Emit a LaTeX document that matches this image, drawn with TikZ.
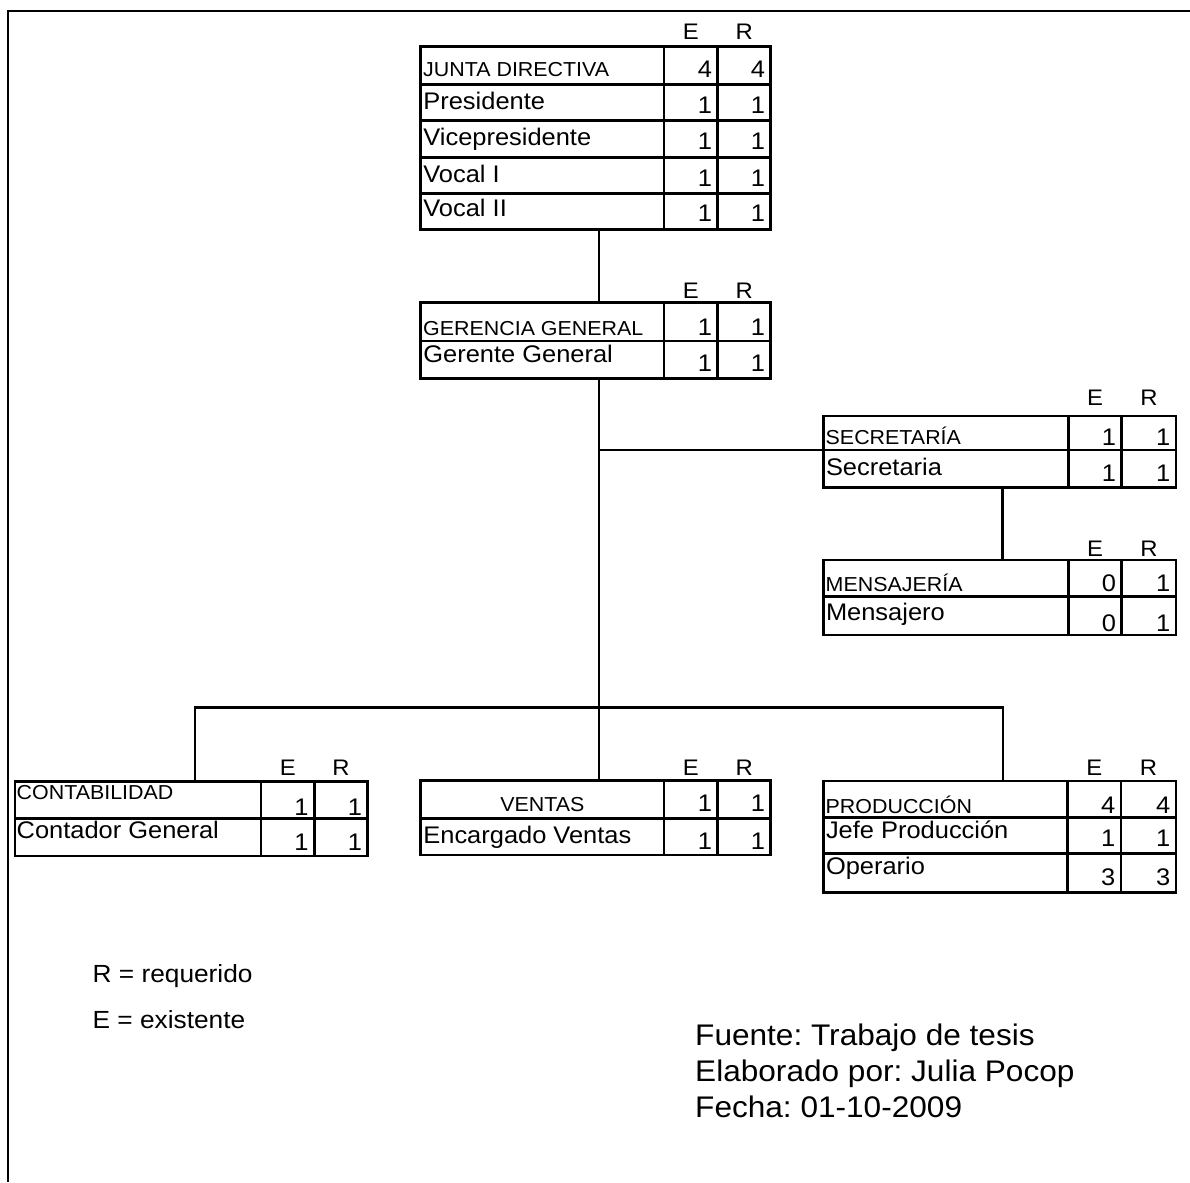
\documentclass[tikz,border=0pt]{standalone}
\usepackage{fontspec}
\setmainfont{Liberation Sans}[FakeStretch=1.06]
\frenchspacing
\begin{document}
\begin{tikzpicture}[x=1pt,y=-1pt,
  tabframe/.style={draw, line width=2.8pt, inner sep=0pt, outer sep=0pt, anchor=north west},
  cellline/.style={line width=2.5pt},
  link/.style={line width=2.4pt},
  pageedge/.style={line width=2.8pt},
  lbl/.style={inner sep=0pt, anchor=base west, font=\fontsize{24}{28}\selectfont},
  caps/.style={inner sep=0pt, anchor=base west, font=\fontsize{20.2}{24}\selectfont},
  capsmid/.style={inner sep=0pt, anchor=base, font=\fontsize{20.2}{24}\selectfont},
  num/.style={inner sep=0pt, anchor=base east, font=\fontsize{24}{28}\selectfont},
  hdr/.style={inner sep=0pt, anchor=base, font=\fontsize{22.5}{26}\selectfont},
  keytext/.style={inner sep=0pt, anchor=base west, font=\fontsize{24.8}{29}\selectfont},
  credit/.style={inner sep=0pt, anchor=base west, font=\fontsize{29.8}{36}\selectfont}]
\useasboundingbox (0,0) rectangle (1190,1182);

% page edge (top and left)
\draw[pageedge] (8,1182) -- (8,11) -- (1190,11);

% ---------- Junta Directiva ----------
\node[tabframe, minimum width=350pt, minimum height=182.6pt] (junta) at (420.7,46.7) {};
\draw[cellline] (664,46.7) -- (664,229.3) (717.7,46.7) -- (717.7,229.3);
\foreach \yy in {84.3,120.7,157.3,193.3} \draw[cellline] (420.7,\yy) -- (770.7,\yy);
\node[hdr] (juntaE) at (690.9,39.3) {E};
\node[hdr] (juntaR) at (744.2,39.3) {R};
\node[caps] (junta0) at (423,76.7) {JUNTA DIRECTIVA};
\node[num] (junta0e) at (712.2,77.3) {4};
\node[num] (junta0r) at (765.2,77.3) {4};
\node[lbl] (junta1) at (423.2,110) {Presidente};
\node[num] (junta1e) at (712.2,113.3) {1};
\node[num] (junta1r) at (765.2,113.3) {1};
\node[lbl] (junta2) at (423.2,146) {Vicepresidente};
\node[num] (junta2e) at (712.2,150) {1};
\node[num] (junta2r) at (765.2,150) {1};
\node[lbl] (junta3) at (423.2,182.7) {Vocal I};
\node[num] (junta3e) at (712.2,186.7) {1};
\node[num] (junta3r) at (765.2,186.7) {1};
\node[lbl] (junta4) at (423.2,216.7) {Vocal II};
\node[num] (junta4e) at (712.2,221.7) {1};
\node[num] (junta4r) at (765.2,221.7) {1};

% ---------- Gerencia General ----------
\node[tabframe, minimum width=350pt, minimum height=75.6pt] (gerencia) at (420.7,302.7) {};
\draw[cellline] (664,302.7) -- (664,378.3) (717.7,302.7) -- (717.7,378.3);
\draw[cellline] (420.7,341) -- (770.7,341);
\node[hdr] (gerE) at (690.9,298.3) {E};
\node[hdr] (gerR) at (744.2,298.3) {R};
\node[caps] (ger0) at (423,335) {GERENCIA GENERAL};
\node[num] (ger0e) at (712.2,335) {1};
\node[num] (ger0r) at (765.2,335) {1};
\node[lbl] (ger1) at (423.2,362.7) {Gerente General};
\node[num] (ger1e) at (712.2,371.7) {1};
\node[num] (ger1r) at (765.2,371.7) {1};

% ---------- Secretaría ----------
\node[tabframe, minimum width=352.7pt, minimum height=71.7pt] (secretaria) at (823.3,416) {};
\draw[cellline] (1068.3,416) -- (1068.3,487.7) (1121.7,416) -- (1121.7,487.7);
\draw[cellline] (823.3,450) -- (1176,450);
\node[hdr] (secE) at (1095,405) {E};
\node[hdr] (secR) at (1148.9,405) {R};
\node[caps] (sec0) at (825.5,444) {SECRETARÍA};
\node[num] (sec0e) at (1116.2,445) {1};
\node[num] (sec0r) at (1170.5,445) {1};
\node[lbl] (sec1) at (825.8,475) {Secretaria};
\node[num] (sec1e) at (1116.2,481.7) {1};
\node[num] (sec1r) at (1170.5,481.7) {1};

% ---------- Mensajería ----------
\node[tabframe, minimum width=352.7pt, minimum height=75pt] (mensajeria) at (823.3,560) {};
\draw[cellline] (1068.3,560) -- (1068.3,635) (1121.7,560) -- (1121.7,635);
\draw[cellline] (823.3,596.7) -- (1176,596.7);
\node[hdr] (menE) at (1095,556.7) {E};
\node[hdr] (menR) at (1148.9,556.7) {R};
\node[caps] (men0) at (825.5,591.7) {MENSAJERÍA};
\node[num] (men0e) at (1116.2,591.7) {0};
\node[num] (men0r) at (1170.5,591.7) {1};
\node[lbl] (men1) at (825.8,620) {Mensajero};
\node[num] (men1e) at (1116.2,631.7) {0};
\node[num] (men1r) at (1170.5,631.7) {1};

% ---------- Contabilidad ----------
\node[tabframe, minimum width=352.7pt, minimum height=74.3pt] (conta) at (15,781.7) {};
\draw[cellline] (261,781.7) -- (261,856) (314.3,781.7) -- (314.3,856);
\draw[cellline] (15,818.3) -- (367.7,818.3);
\node[hdr] (conE) at (287.7,775) {E};
\node[hdr] (conR) at (341,775) {R};
\node[caps] (con0) at (16.5,799) {CONTABILIDAD};
\node[num] (con0e) at (308.8,815) {1};
\node[num] (con0r) at (362.2,815) {1};
\node[lbl] (con1) at (16.5,838.5) {Contador General};
\node[num] (con1e) at (308.8,850) {1};
\node[num] (con1r) at (362.2,850) {1};

% ---------- Ventas ----------
\node[tabframe, minimum width=350pt, minimum height=74.3pt] (ventas) at (420.7,780.7) {};
\draw[cellline] (664,780.7) -- (664,855) (717.7,780.7) -- (717.7,855);
\draw[cellline] (420.7,818.3) -- (770.7,818.3);
\node[hdr] (venE) at (690.9,775) {E};
\node[hdr] (venR) at (744.2,775) {R};
\node[capsmid] (ven0) at (542.3,811.7) {VENTAS};
\node[num] (ven0e) at (712.2,811.7) {1};
\node[num] (ven0r) at (765.2,811.7) {1};
\node[lbl] (ven1) at (423.2,843.3) {Encargado Ventas};
\node[num] (ven1e) at (712.2,849.3) {1};
\node[num] (ven1r) at (765.2,849.3) {1};

% ---------- Producción ----------
\node[tabframe, minimum width=352.7pt, minimum height=111.7pt] (produccion) at (823.3,781) {};
\draw[cellline] (1067.7,781) -- (1067.7,892.7) (1121,781) -- (1121,892.7);
\foreach \yy in {817.7,853.3} \draw[cellline] (823.3,\yy) -- (1176,\yy);
\node[hdr] (proE) at (1094.4,775) {E};
\node[hdr] (proR) at (1148.5,775) {R};
\node[caps] (pro0) at (825.5,813.3) {PRODUCCIÓN};
\node[num] (pro0e) at (1115.5,813.3) {4};
\node[num] (pro0r) at (1170.5,813.3) {4};
\node[lbl] (pro1) at (825.8,838.3) {Jefe Producción};
\node[num] (pro1e) at (1115.5,846.7) {1};
\node[num] (pro1r) at (1170.5,846.7) {1};
\node[lbl] (pro2) at (825.8,874) {Operario};
\node[num] (pro2e) at (1115.5,885) {3};
\node[num] (pro2r) at (1170.5,885) {3};

% ---------- connectors ----------
\coordinate (stem) at (599,0);
\coordinate (secjoin) at (599,450);
\coordinate (secdrop) at (1002.3,0);
\coordinate (bl) at (195,707.3);
\coordinate (br) at (1003,707.3);
\draw[link] (junta.south -| stem) -- (gerencia.north -| stem);
\draw[link] (gerencia.south -| stem) -- (ventas.north -| stem);
\draw[link] (secjoin) -- (secjoin -| secretaria.west);
\draw[link] (secretaria.south -| secdrop) -- (mensajeria.north -| secdrop);
\draw[link] (conta.north -| bl) -- (bl) -- (br) -- (produccion.north -| br);

% ---------- key and credits ----------
\node[keytext] (keyR) at (92.4,982.3) {R = requerido};
\node[keytext] (keyE) at (92.4,1028.3) {E = existente};
\node[credit] (src1) at (695,1045.7) {Fuente: Trabajo de tesis};
\node[credit] (src2) at (695,1081.7) {Elaborado por: Julia Pocop};
\node[credit] (src3) at (695,1117.3) {Fecha: 01-10-2009};
\end{tikzpicture}
\end{document}
